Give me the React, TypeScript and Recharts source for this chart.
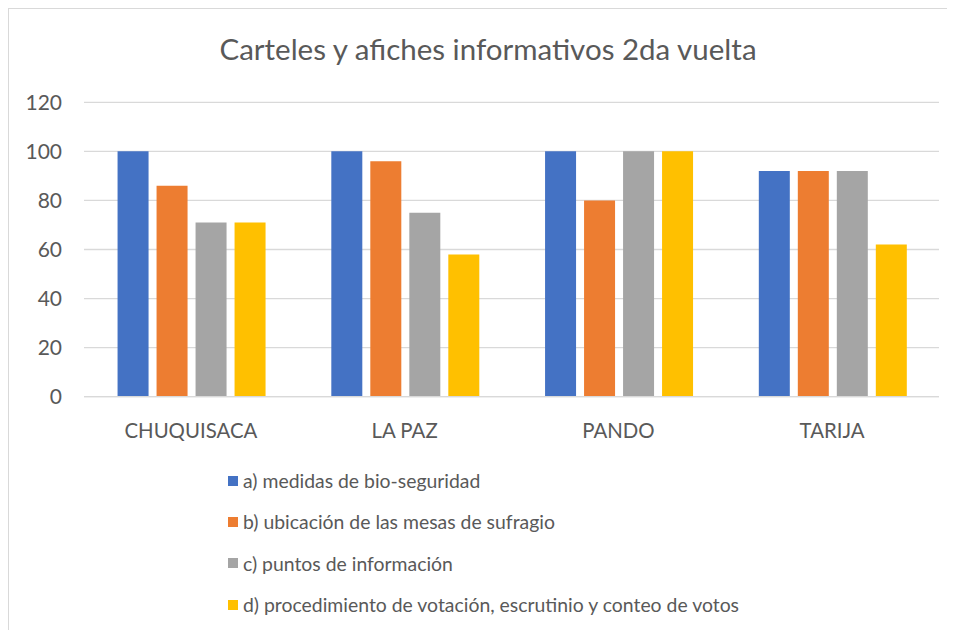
import React from 'react';
import { BarChart, Bar, XAxis, YAxis, CartesianGrid, Legend } from 'recharts';

const categories = ['CHUQUISACA', 'LA PAZ', 'PANDO', 'TARIJA'];
const bioSeguridad = [100, 100, 100, 92];
const ubicacionMesas = [86, 96, 80, 92];
const puntosInformacion = [71, 75, 100, 92];
const procedimientoVotacion = [71, 58, 100, 62];
const yTicks = [0, 20, 40, 60, 80, 100, 120];
const seriesNames = [
  'a) medidas de bio-seguridad',
  'b) ubicación de las mesas de sufragio',
  'c) puntos de información',
  'd) procedimiento de votación, escrutinio y conteo de votos',
];
const seriesKeys = ['a', 'b', 'c', 'd'];
const seriesColors = ['#4472C4', '#ED7D31', '#A5A5A5', '#FFC000'];
const title = 'Carteles y afiches informativos 2da vuelta';

const data = categories.map((c, i) => ({
  category: c,
  a: bioSeguridad[i],
  b: ubicacionMesas[i],
  c: puntosInformacion[i],
  d: procedimientoVotacion[i],
}));

const FONT = 'Lato, sans-serif';
const TEXT = '#595959';

const renderLegend = () => (
  <div style={{ fontFamily: FONT }}>
    {seriesNames.map((n, i) => (
      <div key={n} style={{ display: 'flex', alignItems: 'center', height: 41.3 }}>
        <span style={{ width: 10, height: 10, background: seriesColors[i], marginRight: 5, display: 'inline-block' }} />
        <span style={{ fontSize: 19.4, color: TEXT, whiteSpace: 'nowrap' }}>{n}</span>
      </div>
    ))}
  </div>
);

export default function App() {
  return (
    <div style={{ position: 'relative', width: 947, height: 622, overflow: 'hidden', background: '#fff' }}>
      <div style={{ position: 'absolute', left: 0, top: 0, width: 1100, height: 800, border: '1px solid #d9d9d9', boxSizing: 'border-box' }} />
      <div style={{ position: 'absolute', left: 0, top: 23, width: 960, textAlign: 'center', fontFamily: FONT, fontSize: 29.5, lineHeight: 1.2, color: TEXT, whiteSpace: 'nowrap' }}>
        {title}
      </div>
      <div style={{ position: 'absolute', left: 0, top: 0 }}>
        <BarChart width={947} height={614} data={data} margin={{ top: 94.3, right: 16, left: 0, bottom: 195.3 }} barCategoryGap="15.7%" barGap={8}>
          <CartesianGrid vertical={false} stroke="#d9d9d9" strokeWidth={1.3} />
          <XAxis dataKey="category" axisLine={{ stroke: '#d9d9d9', strokeWidth: 1.3 }} tickLine={false} tickSize={0} tickMargin={27} height={30} tick={{ fill: TEXT, fontSize: 20.4, fontFamily: FONT }} interval={0} />
          <YAxis domain={[0, 120]} ticks={yTicks} axisLine={false} tickLine={false} tickSize={0} tickMargin={22} width={76} tick={{ fill: TEXT, fontSize: 21, fontFamily: FONT }} />
          <Legend layout="vertical" align="center" verticalAlign="middle" content={renderLegend} wrapperStyle={{ position: 'absolute', left: 220, top: 452, width: 'auto' }} />
          {seriesKeys.map((k, i) => (
            <Bar key={k} dataKey={k} name={seriesNames[i]} fill={seriesColors[i]} isAnimationActive={false} />
          ))}
        </BarChart>
      </div>
    </div>
  );
}
